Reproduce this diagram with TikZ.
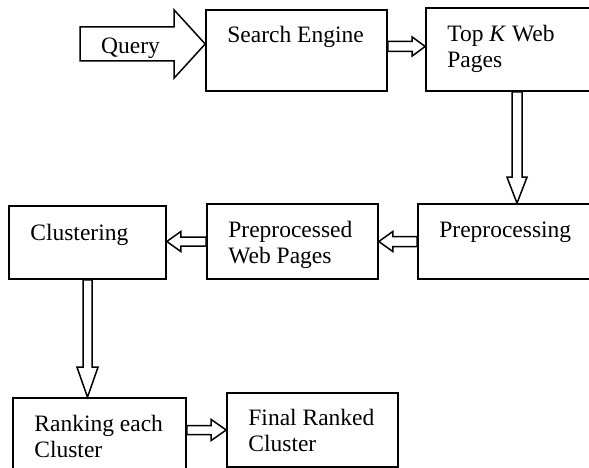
\documentclass[tikz,border=0pt]{standalone}
\usepackage{fontspec}
\setmainfont{Liberation Serif}
\usetikzlibrary{calc}
\begin{document}
\begin{tikzpicture}
[x=1pt,y=-1pt,
  boxdecorate/.style={draw,line width=1.6pt,inner sep=0pt},
  textdecorate/.style={anchor=base west,align=left,inner sep=0pt,
    font=\fontsize{23.5}{26}\selectfont},
  blockarrow/.style n args={3}{draw,line width=1.5pt,line join=miter,
    to path={let \p1=($(\tikztotarget)!#1!(\tikztostart)$) in
      ($(\tikztostart)!#2!90:(\tikztotarget)$) -- ($(\p1)!#2!90:(\tikztotarget)$)
      -- ($(\p1)!#3!90:(\tikztotarget)$) -- (\tikztotarget)
      -- ($(\p1)!#3!-90:(\tikztotarget)$) -- ($(\p1)!#2!-90:(\tikztotarget)$)
      -- ($(\tikztostart)!#2!-90:(\tikztotarget)$) -- cycle}}]
\useasboundingbox (0,0) rectangle (589,468);
%% boxes with their texts (\dy: baseline of the last line)
\foreach \nodename/\x/\y/\w/\h/\dy/\txt in {
  search/296.5/50.5/181/81/33/{Search Engine},
  topk/517/49.5/182/83/60/{Top \textit{K} Web\\Pages},
  preproc/517/241.5/198/75/34/{Preprocessing},
  preprocd/292.5/241.5/171/75/60/{Preprocessed\\Web Pages},
  clustering/87.5/242.5/157/73/35/{Clustering},
  ranking/99.5/436/173/76/60/{Ranking each\\Cluster},
  final/312.5/430/171/74/59/{Final Ranked\\Cluster}} {
  \node (\nodename) at (\x,\y) [boxdecorate,minimum width=\w pt,minimum height=\h pt] {};
  \node (\nodename-text) at ([shift={(22,\dy)}]\nodename.north west) [textdecorate] {\txt};
}
%% free ends of the arrows
\coordinate (qtail) at (80,44);
\coordinate (qtip) at (qtail -| search.west);
\coordinate (sa) at ([yshift=4pt]search.east);
\coordinate (sb) at (sa -| topk.west);
\coordinate (pc) at (preprocd.west -| clustering.east);
\coordinate (cr) at (clustering.south |- ranking.north);
\coordinate (ra) at (ranking.east |- final.west);
\node (query) at (101,54) [textdecorate] {Query};
%% block arrows
\foreach \startnode/\endnode/\hl/\bw/\hw in {
  qtail/qtip/31pt/17pt/34pt,
  sa/sb/13pt/5pt/9.5pt,
  topk.south/preproc.north/26pt/5pt/10pt,
  preproc.west/preprocd.east/14pt/5pt/10pt,
  preprocd.west/pc/14pt/4.5pt/10pt,
  clustering.south/cr/30pt/4.5pt/10.5pt,
  ra/final.west/15pt/4.5pt/10.5pt} {
  \draw[blockarrow={\hl}{\bw}{\hw}] (\startnode) to (\endnode);
}
\end{tikzpicture}
\end{document}
